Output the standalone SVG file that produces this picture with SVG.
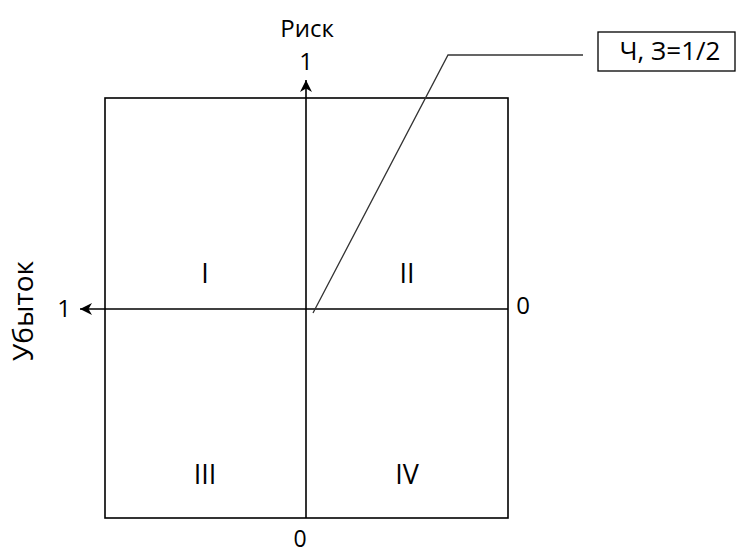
<svg xmlns="http://www.w3.org/2000/svg" width="736" height="555" viewBox="0 0 736 555">
<style>
.t{font-family:"Open Sans","Liberation Sans",sans-serif;font-size:24px;fill:#000;text-anchor:middle}
.r{font-size:27px}
.l{stroke:#000;stroke-width:1.6;fill:none}
</style>
<defs>
<marker id="a" viewBox="0 0 12 12" refX="12" refY="6" markerWidth="12" markerHeight="12" markerUnits="userSpaceOnUse" orient="auto"><path d="M0,0 L12,6 L0,12 L3.5,6 Z" fill="#000"/></marker>
</defs>
<rect width="736" height="555" fill="#fff"/>
<g id="square"><rect class="l" x="105" y="98" width="403" height="420"/></g>
<g id="connectors">
<line class="l" x1="306" y1="518" x2="306" y2="80" marker-end="url(#a)"/>
<line class="l" x1="508" y1="309" x2="80" y2="309" marker-end="url(#a)"/>
<polyline stroke="#333" stroke-width="1.3" fill="none" points="313,313 448,55 583,55"/>
</g>
<g id="callout"><rect stroke="#000" stroke-width="1.3" fill="#fff" x="598" y="32" width="137" height="39"/><text class="t" x="670" y="60" style="font-size:26px">Ч, З=1/2</text></g>
<g id="labels">
<text class="t" x="307" y="37">Риск</text>
<text class="t" x="306" y="70">1</text>
<text class="t" x="64" y="317">1</text>
<text class="t" x="523" y="314">0</text>
<text class="t" x="300" y="547" style="font-size:23px">0</text>
<text class="t" transform="translate(33,311) rotate(-90)" style="font-size:28px">Убыток</text>
<text class="t r" x="205" y="283">I</text>
<text class="t r" x="407" y="283">II</text>
<text class="t r" x="205" y="484">III</text>
<text class="t r" x="407" y="484">IV</text>
</g>
</svg>
